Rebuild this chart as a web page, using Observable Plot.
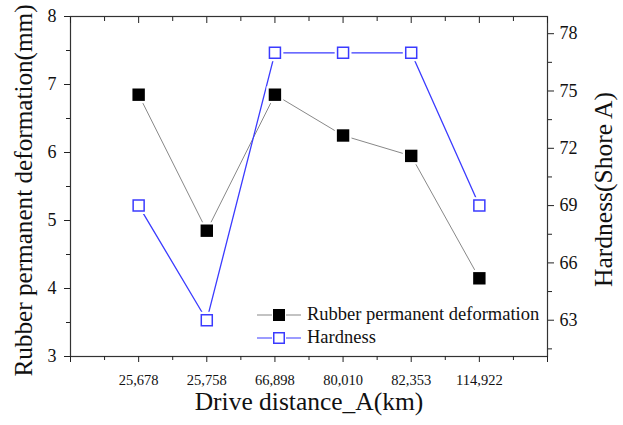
<!DOCTYPE html>
<html><head><meta charset="utf-8">
<script src="https://cdn.jsdelivr.net/npm/d3@7"></script>
<script src="https://cdn.jsdelivr.net/npm/@observablehq/plot@0.6"></script>
<style>
body{margin:0;background:#fff;font-family:"Liberation Serif",serif;}
#wrap{position:relative;width:623px;height:425px;}
#legend{position:absolute;left:257px;top:303px;font-size:18.5px;color:#111;}
#legend div{display:flex;align-items:center;height:23px;}
#legend svg{margin-right:6px;}
</style></head><body>
<div id="wrap"><div id="legend"></div></div>
<script>
const distances = ["25,678","25,758","66,898","80,010","82,353","114,922"];
const deformation = [6.85, 4.85, 6.85, 6.25, 5.95, 4.15];
const hardness = [69, 63, 77, 77, 77, 69];
const hardTicks = [63, 66, 69, 72, 75, 78];
const hardMinor = [61.5, 64.5, 67.5, 70.5, 73.5, 76.5];
const hMin = 61.1, hMax = 78.9;
const toY = h => 3 + (h - hMin) / (hMax - hMin) * 5;

const rows = distances.map((d, i) => ({i: i + 1, d, def: deformation[i], hy: toY(hardness[i]), h: hardness[i]}));
const xMajor = d3.range(0, 8);
const xMinor = d3.range(0.5, 7, 1);
const yMajor = d3.range(3, 9);
const yMinor = d3.range(3.5, 8, 1);
const blue = "#3b3bff";
const font = "Liberation Serif";

const chart = Plot.plot({
  width: 623, height: 425,
  marginLeft: 70, marginRight: 76, marginTop: 16, marginBottom: 69,
  style: {fontFamily: font, background: "#fff", overflow: "visible"},
  x: {domain: [0, 7], axis: null},
  y: {domain: [3, 8], axis: null},
  marks: [
    Plot.frame({stroke: "#333", strokeWidth: 1.2}),
    // bottom axis
    Plot.axisX({anchor: "bottom", ticks: xMajor, tickSize: 6, tickFormat: d => (d >= 1 && d <= 6) ? distances[d - 1] : "", tickPadding: 12, fontSize: 14.5, label: null, stroke: "#222", fill: "#111"}),
    Plot.axisX({anchor: "bottom", ticks: xMinor, tickSize: 4, tickFormat: () => "", label: null, stroke: "#222"}),
    // top axis (inward)
    Plot.axisX({anchor: "top", ticks: xMajor, tickSize: -6, tickFormat: () => "", label: null, stroke: "#222"}),
    Plot.axisX({anchor: "top", ticks: xMinor, tickSize: -4, tickFormat: () => "", label: null, stroke: "#222"}),
    // left axis
    Plot.axisY({anchor: "left", ticks: yMajor, tickSize: 6, tickPadding: 8, fontSize: 18, tickFormat: d => String(d), label: null, stroke: "#222", fill: "#111"}),
    Plot.axisY({anchor: "left", ticks: yMinor, tickSize: 4, tickFormat: () => "", label: null, stroke: "#222"}),
    // right axis (hardness)
    Plot.axisY({anchor: "right", ticks: hardTicks.map(toY), tickSize: 6, tickPadding: 6, fontSize: 18, tickFormat: d => String(Math.round(hMin + (d - 3) / 5 * (hMax - hMin))), label: null, stroke: "#222", fill: "#111"}),
    Plot.axisY({anchor: "right", ticks: hardMinor.map(toY), tickSize: 4, tickFormat: () => "", label: null, stroke: "#222"}),
    // titles
    Plot.text(["Rubber permanent deformation(mm)"], {frameAnchor: "left", textAnchor: "middle", rotate: -90, dx: -47, dy: 4, fontSize: 25.2, fill: "#111"}),
    Plot.text(["Hardness(Shore A)"], {frameAnchor: "right", textAnchor: "middle", rotate: -90, dx: 56, dy: 3, fontSize: 25.5, fill: "#111"}),
    Plot.text(["Drive distance_A(km)"], {frameAnchor: "bottom", dy: 53, fontSize: 25.5, fill: "#111"}),
    // series lines
    Plot.line(rows, {x: "i", y: "def", stroke: "#888", strokeWidth: 1}),
    Plot.line(rows, {x: "i", y: "hy", stroke: blue, strokeWidth: 1.3}),
    // gaps around markers
    Plot.dot(rows, {x: "i", y: "def", symbol: "square", r: 9.5, fill: "#fff", stroke: "none"}),
    Plot.dot(rows, {x: "i", y: "hy", symbol: "square", r: 9.5, fill: "#fff", stroke: "none"}),
    Plot.dot(rows, {x: "i", y: "def", symbol: "square", r: 7.0, fill: "#000", stroke: "none"}),
    Plot.dot(rows, {x: "i", y: "hy", symbol: "square", r: 6.2, fill: "#fff", stroke: blue, strokeWidth: 1.5})
  ]
});
document.getElementById("wrap").prepend(chart);

const legendItems = [
  {label: "Rubber permanent deformation", line: "#888", fill: "#000", stroke: "none"},
  {label: "Hardness", line: blue, fill: "#fff", stroke: blue}
];
const lg = document.getElementById("legend");
legendItems.forEach(it => {
  const row = document.createElement("div");
  row.innerHTML = `<svg width="44" height="16"><line x1="0" x2="44" y1="8" y2="8" stroke="${it.line}" stroke-width="1.2"/><rect x="15" y="1" width="14" height="14" fill="#fff"/><rect x="${it.stroke === "none" ? 16 : 16.75}" y="${it.stroke === "none" ? 2 : 2.75}" width="${it.stroke === "none" ? 12 : 10.5}" height="${it.stroke === "none" ? 12 : 10.5}" fill="${it.fill}" stroke="${it.stroke}" stroke-width="1.5"/></svg><span>${it.label}</span>`;
  lg.appendChild(row);
});
</script>
</body></html>
